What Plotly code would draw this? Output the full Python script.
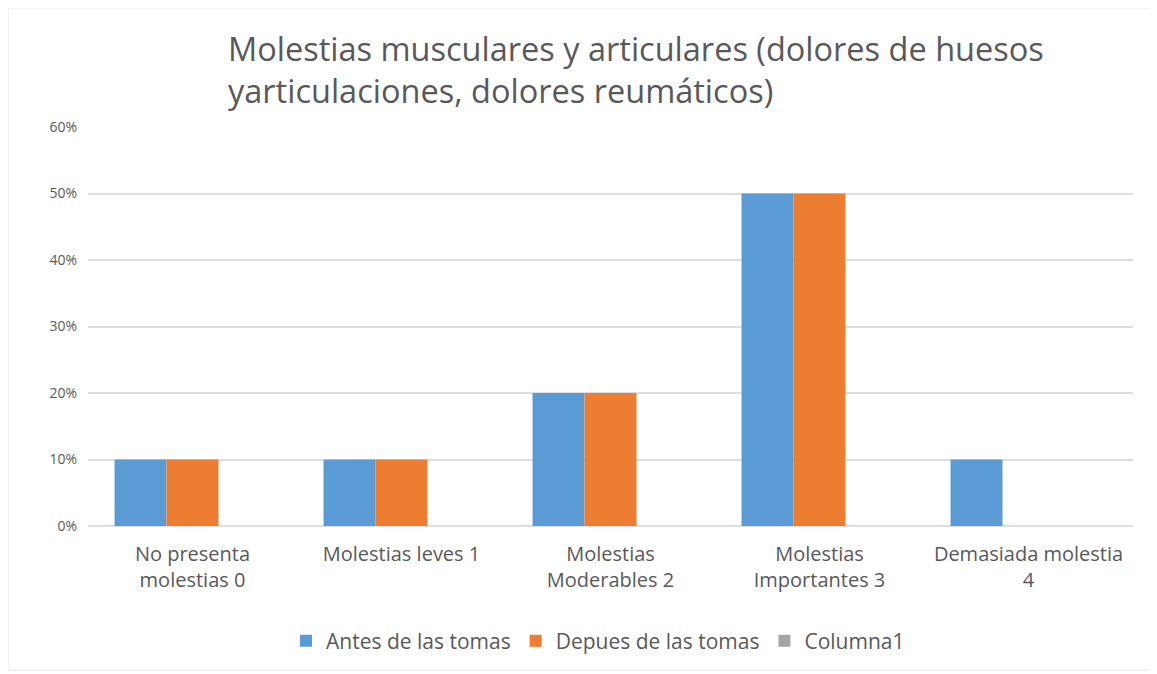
import plotly.graph_objects as go

categories = ["No presenta<br>molestias 0", "Molestias leves 1", "Molestias<br>Moderables 2",
              "Molestias<br>Importantes 3", "Demasiada molestia<br>4"]
antes = [0.10, 0.10, 0.20, 0.50, 0.10]
despues = [0.10, 0.10, 0.20, 0.50, 0.0]
columna1 = [None, None, None, None, None]
series_names = ["Antes de las tomas", "Depues de las tomas", "Columna1"]
y_ticks = [0, 0.1, 0.2, 0.3, 0.4, 0.5, 0.6]
title_text = "Molestias musculares y articulares (dolores de huesos<br>yarticulaciones, dolores reumáticos)"

colors = ["#5B9BD5", "#ED7D31", "#A5A5A5"]
FONT = "Open Sans"
GRAY = "#595959"

fig = go.Figure()
for name, vals, col in zip(series_names, [antes, despues, columna1], colors):
    fig.add_trace(go.Bar(x=categories, y=vals, name=name,
                         marker=dict(color=col, line=dict(width=0))))

# page is offset by the body margin (8px)
OFF = 8
W, H = 1157 - OFF, 674 - OFF
l, t = 88 - OFF, 127 - OFF
pw, ph = 1045, 399
r, b = W - l - pw, H - t - ph

def px_x(p):
    return (p - OFF - l) / pw

def px_y(p):
    return (t + ph - (p - OFF)) / ph

fig.update_layout(
    width=W, height=H,
    margin=dict(l=l, r=r, t=t, b=b),
    paper_bgcolor="white", plot_bgcolor="white",
    barmode="group", bargap=0.254, bargroupgap=0,
    font=dict(family=FONT, color=GRAY, size=20),
    title=dict(text=title_text, x=(228 - OFF) / W, xanchor="left", xref="container",
               y=1 - 53 / H, yanchor="top", yref="container",
               font=dict(family=FONT, size=32.5, color=GRAY)),
    legend=dict(orientation="h", x=px_x(598), xanchor="center",
                y=px_y(641), yanchor="middle",
                font=dict(family=FONT, size=21, color=GRAY),
                itemwidth=30, traceorder="normal"),
    xaxis=dict(type="category", range=[-0.5, 4.5], showgrid=False,
               showline=False, ticks="", tickfont=dict(size=20, color=GRAY),
               ticklabelstandoff=14),
    yaxis=dict(range=[0, 0.6], tickvals=y_ticks, tickformat=".0%",
               showgrid=True, gridcolor="#DEDEDE", gridwidth=2,
               zeroline=True, zerolinecolor="#DEDEDE", zerolinewidth=2,
               showline=False, ticks="", ticklabelstandoff=10,
               tickfont=dict(size=14, color=GRAY)),
    shapes=[dict(type="rect", xref="paper", yref="paper",
                 x0=px_x(8), x1=px_x(1155), y0=px_y(670), y1=px_y(8),
                 line=dict(color="#E6E6E6", width=1), layer="below")],
)

fig.write_html("out.html")
